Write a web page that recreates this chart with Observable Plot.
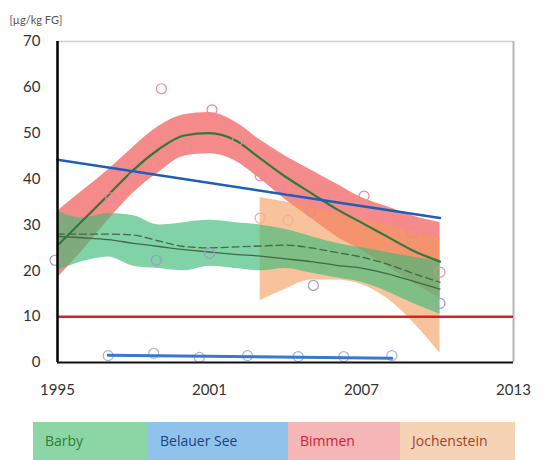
<!DOCTYPE html>
<html>
<head>
<meta charset="utf-8">
<script src="https://cdn.jsdelivr.net/npm/d3@7"></script>
<script src="https://cdn.jsdelivr.net/npm/@observablehq/plot@0.6"></script>
<style>
  html, body { margin: 0; padding: 0; background: #fff; }
  #chart { width: 558px; }
  .legend { display: flex; margin: 12px 0 0 33px; height: 38px; font-family: "Open Sans", sans-serif; font-size: 14px; }
  .legend div { height: 38px; line-height: 38px; padding-left: 12px; box-sizing: border-box; }
</style>
</head>
<body>
<div id="chart"></div>
<script>
// ---- data ----
const unitLabel = "[µg/kg FG]";
const xTicks = [1995, 2001, 2007, 2013];
const yTicks = [0, 10, 20, 30, 40, 50, 60, 70];

const fitYears = [1995, 1996, 1997, 1998, 1999, 2000, 2001, 2002, 2003, 2004, 2005, 2006, 2007, 2008, 2009, 2010.1];

// Bimmen
const bimmenFit = [25.5, 31, 36.5, 42, 46.5, 49.5, 50, 48.5, 44.5, 40.5, 37, 33.5, 30.5, 27.5, 24.5, 22];
const bimmenLo  = [18.5, 24.5, 31, 37, 41.5, 45, 45.5, 44, 40, 35.5, 31.5, 27.5, 24.5, 21, 17.5, 14];
const bimmenHi  = [33, 37.5, 42, 47, 51.5, 54, 54.5, 52.5, 48.5, 45, 42, 39, 36, 34, 32, 30.5];
const bimmenPtX = [1997.1, 1998, 1999.1, 2000.1, 2001.1, 2002.1, 2003, 2004.1, 2005, 2007.1, 2009, 2010.1];
const bimmenPtY = [35.9, 40.2, 59.7, 47, 55.1, 48.3, 40.7, 38, 33, 36.3, 28.4, 19.7];

// Barby
const barbyHi   = [33, 31.5, 32.5, 32, 30, 30.5, 31, 30.5, 30, 29, 27.5, 26, 25, 24, 23, 22];
const barbyLo   = [20, 22, 23, 21, 20.5, 20, 21, 20.5, 20, 20.5, 19.5, 18.5, 17.5, 15.5, 13, 10.5];
const barbyFit  = [27.5, 27.2, 26.8, 26, 25.3, 24.6, 24.1, 23.6, 23.2, 22.6, 22, 21.2, 20.6, 19.4, 17.8, 16];
const barbyDash = [28, 28, 28, 27.8, 26.5, 25.3, 25, 25.2, 25.4, 25.6, 25, 24, 23, 21.5, 19.5, 17.5];
const barbyPtX  = [1994.9, 1998.9, 2001, 2005.1, 2010.1];
const barbyPtY  = [22.3, 22.3, 23.8, 16.8, 12.9];

// Jochenstein
const jochYears = [2003, 2004, 2005, 2006, 2007, 2008, 2009, 2010.1];
const jochHi    = [36, 35, 34, 32.5, 31, 30, 28.5, 27];
const jochLo    = [13.5, 16, 18, 18, 17, 14, 9, 2];
const jochPtX   = [2003, 2004.1];
const jochPtY   = [31.5, 31];

// Belauer See
const belauerPtX = [1997, 1998.8, 2000.6, 2002.5, 2004.5, 2006.3, 2008.2];
const belauerPtY = [1.5, 2, 1.1, 1.5, 1.3, 1.3, 1.5];
const belauerFitX = [1997, 2008.2];
const belauerFitY = [1.6, 0.9];

// Trend line and threshold
const trendX = [1995, 2010.1];
const trendY = [44.2, 31.5];
const threshold = 10;

// Legend
const legendNames  = ["Barby", "Belauer See", "Bimmen", "Jochenstein"];
const legendFill   = ["#8cd5a5", "#8fc3ec", "#f4b6b6", "#f5d3b5"];
const legendText   = ["#2e7d3a", "#1f3f80", "#d0203a", "#b03a2a"];
const legendWidths = [115, 140, 112, 115];

// ---- tables ----
const fitRows = fitYears.map((x, i) => ({x, bLo: bimmenLo[i], bHi: bimmenHi[i], bFit: bimmenFit[i],
  gLo: barbyLo[i], gHi: barbyHi[i], gFit: barbyFit[i], gDash: barbyDash[i]}));
const jochRows = jochYears.map((x, i) => ({x, lo: jochLo[i], hi: jochHi[i]}));
const pts = (xs, ys) => xs.map((x, i) => ({x, y: ys[i]}));

const chart = Plot.plot({
  width: 558,
  height: 410,
  marginLeft: 57,
  marginRight: 45,
  marginTop: 41,
  marginBottom: 48,
  style: {fontFamily: "Lato, sans-serif", fontSize: "15px", color: "#333", background: "#fff"},
  x: {domain: [1995, 2013]},
  y: {domain: [0, 70]},
  marks: [
    Plot.ruleY([70], {stroke: "#cfcfcf", strokeWidth: 1.5}),
    Plot.ruleX([2013], {stroke: "#b5b5b5", strokeWidth: 2}),
    Plot.areaY(fitRows, {x: "x", y1: "bLo", y2: "bHi", fill: "#f26d6d", fillOpacity: 0.8, curve: "monotone-x"}),
    Plot.areaY(jochRows, {x: "x", y1: "lo", y2: "hi", fill: "#f39a5a", fillOpacity: 0.6, curve: "monotone-x"}),
    Plot.areaY(fitRows, {x: "x", y1: "gLo", y2: "gHi", fill: "#3dbb78", fillOpacity: 0.65, curve: "monotone-x"}),
    Plot.lineY(fitRows, {x: "x", y: "gFit", stroke: "#3f6a45", strokeWidth: 1.3, curve: "monotone-x"}),
    Plot.lineY(fitRows, {x: "x", y: "gDash", stroke: "#3f6a45", strokeWidth: 1.3, strokeDasharray: "7,4", curve: "monotone-x"}),
    Plot.lineY(fitRows, {x: "x", y: "bFit", stroke: "#2f7a3a", strokeWidth: 2.2, curve: "monotone-x"}),
    Plot.lineY(pts(trendX, trendY), {x: "x", y: "y", stroke: "#1d5fb8", strokeWidth: 2.5}),
    Plot.ruleY([threshold], {x1: 1995, x2: 2013, stroke: "#d42222", strokeWidth: 2.5}),
    Plot.dot(pts(bimmenPtX, bimmenPtY), {x: "x", y: "y", r: 5, stroke: "#e8899a", strokeWidth: 1.2, fill: "none"}),
    Plot.dot(pts(jochPtX, jochPtY), {x: "x", y: "y", r: 5, stroke: "#f0b090", strokeWidth: 1.2, fill: "none"}),
    Plot.dot(pts(barbyPtX, barbyPtY), {x: "x", y: "y", r: 5, stroke: "#9c9cc8", strokeWidth: 1.2, fill: "none"}),
    Plot.dot(pts(belauerPtX, belauerPtY), {x: "x", y: "y", r: 5, stroke: "#a8b4d8", strokeWidth: 1.2, fill: "none"}),
    Plot.lineY(pts(belauerFitX, belauerFitY), {x: "x", y: "y", stroke: "#3a78d0", strokeWidth: 3}),
    Plot.ruleX([1995], {stroke: "#000", strokeWidth: 2.5}),
    Plot.ruleY([0], {stroke: "#111", strokeWidth: 2}),
    Plot.axisY({ticks: yTicks, tickSize: 0, tickPadding: 17, label: null}),
    Plot.axisX({ticks: xTicks, tickSize: 0, tickPadding: 22, label: null, tickFormat: d => String(d)}),
    Plot.text([unitLabel], {frameAnchor: "top-left", dx: -48, dy: -25, textAnchor: "start", fontSize: 11, fill: "#555", fontFamily: "Lato, sans-serif"})
  ]
});
document.getElementById("chart").appendChild(chart);

const legend = document.createElement("div");
legend.className = "legend";
legendNames.forEach((name, i) => {
  const d = document.createElement("div");
  d.textContent = name;
  d.style.background = legendFill[i];
  d.style.color = legendText[i];
  d.style.width = legendWidths[i] + "px";
  legend.appendChild(d);
});
document.getElementById("chart").appendChild(legend);
</script>
</body>
</html>
